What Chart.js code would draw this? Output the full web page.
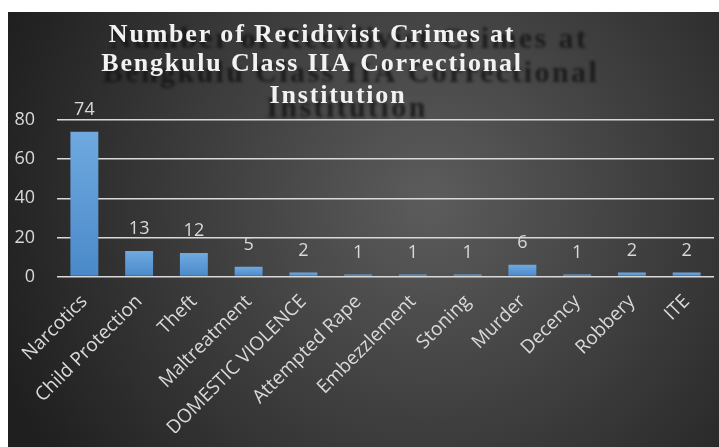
<!DOCTYPE html>
<html>
<head>
<meta charset="utf-8">
<script src="https://cdn.jsdelivr.net/npm/chart.js@4"></script>
<style>
    html, body { margin: 0; padding: 0; background: #fff; }
    #crimeChart { display: block; }
</style>
</head>
<body>
<canvas id="crimeChart" width="719" height="447"></canvas>
<script>
// Chart data
const categories = ['Narcotics', 'Child Protection', 'Theft', 'Maltreatment', 'DOMESTIC VIOLENCE',
    'Attempted Rape', 'Embezzlement', 'Stoning', 'Murder', 'Decency', 'Robbery', 'ITE'];
const crimeCounts = [74, 13, 12, 5, 2, 1, 1, 1, 6, 1, 2, 2];
const yTicks = [0, 20, 40, 60, 80];
const titleLines = ['Number of Recidivist Crimes at', 'Bengkulu Class IIA Correctional', 'Institution'];

const labelColor = '#d9d9d9';

// Dark radial background inside the frame
const backgroundPlugin = {
    id: 'background',
    beforeDraw(chart) {
        const ctx = chart.ctx;
        ctx.save();
        ctx.fillStyle = '#fff';
        ctx.fillRect(0, 0, chart.width, chart.height);
        const g = ctx.createRadialGradient(430, 200, 0, 430, 200, 460);
        g.addColorStop(0, '#5c5c5c');
        g.addColorStop(1, '#1f1f1f');
        ctx.fillStyle = g;
        ctx.fillRect(8, 12, chart.width - 8, chart.height - 12);
        ctx.restore();
    }
};

function drawTitle(ctx, size, centers, baselines) {
    ctx.font = 'bold ' + size + 'px "Liberation Serif"';
    ctx.textAlign = 'center';
    ctx.textBaseline = 'alphabetic';
    titleLines.forEach((line, i) => ctx.fillText(line, centers[i], baselines[i]));
}

// Title with the blurred echo behind it
const titlePlugin = {
    id: 'shadowTitle',
    beforeDatasetsDraw(chart) {
        const ctx = chart.ctx;
        ctx.save();
        ctx.filter = 'blur(1.5px)';
        ctx.fillStyle = 'rgba(18,18,18,0.8)';
        ctx.letterSpacing = '2.4px';
        drawTitle(ctx, 30, [349, 351, 347], [48, 82, 117]);
        ctx.restore();
    },
    afterDraw(chart) {
        const ctx = chart.ctx;
        ctx.save();
        ctx.fillStyle = '#f2f2f2';
        ctx.letterSpacing = '1.8px';
        drawTitle(ctx, 26, [312, 312, 338], [42, 71, 103]);
        ctx.restore();
    }
};

// Value labels above bars
const valueLabels = {
    id: 'valueLabels',
    afterDatasetsDraw(chart) {
        const ctx = chart.ctx;
        const meta = chart.getDatasetMeta(0);
        ctx.save();
        ctx.font = '18px "Open Sans"';
        ctx.fillStyle = labelColor;
        ctx.textAlign = 'center';
        ctx.textBaseline = 'middle';
        meta.data.forEach((bar, i) => {
            ctx.fillText(String(crimeCounts[i]), bar.x, bar.y - 22);
        });
        ctx.restore();
    }
};

new Chart(document.getElementById('crimeChart'), {
    type: 'bar',
    data: {
        labels: categories,
        datasets: [{
            data: crimeCounts,
            categoryPercentage: 1,
            barPercentage: 0.51,
            backgroundColor: function(context) {
                const chart = context.chart;
                const area = chart.chartArea;
                if (!area || context.type !== 'data') return '#5b9bd5';
                const top = chart.scales.y.getPixelForValue(context.raw);
                const g = chart.ctx.createLinearGradient(0, top, 0, area.bottom);
                g.addColorStop(0, '#6fa9e0');
                g.addColorStop(1, '#4a89c9');
                return g;
            }
        }]
    },
    options: {
        responsive: false,
        animation: false,
        layout: { padding: { top: 120, left: 14, right: 5, bottom: 14 } },
        plugins: {
            legend: { display: false },
            title: { display: false },
            tooltip: { enabled: false }
        },
        scales: {
            x: {
                grid: { display: false },
                border: { display: false },
                afterFit(scale) {
                    // let the rotated first label hang past the plot edge
                    scale.paddingLeft = 0;
                    scale.paddingRight = 0;
                },
                ticks: {
                    color: labelColor,
                    font: { family: 'Open Sans', size: 19 },
                    minRotation: 45,
                    maxRotation: 45,
                    padding: 6
                }
            },
            y: {
                min: 0,
                max: 80,
                afterBuildTicks(scale) {
                    scale.ticks = yTicks.map(v => ({ value: v }));
                },
                afterFit(scale) {
                    scale.width = 43;
                },
                grid: { color: labelColor, lineWidth: 1.5, drawTicks: false },
                border: { display: false },
                ticks: {
                    color: labelColor,
                    font: { family: 'Open Sans', size: 18 },
                    padding: 22
                }
            }
        }
    },
    plugins: [backgroundPlugin, titlePlugin, valueLabels]
});
</script>
</body>
</html>
